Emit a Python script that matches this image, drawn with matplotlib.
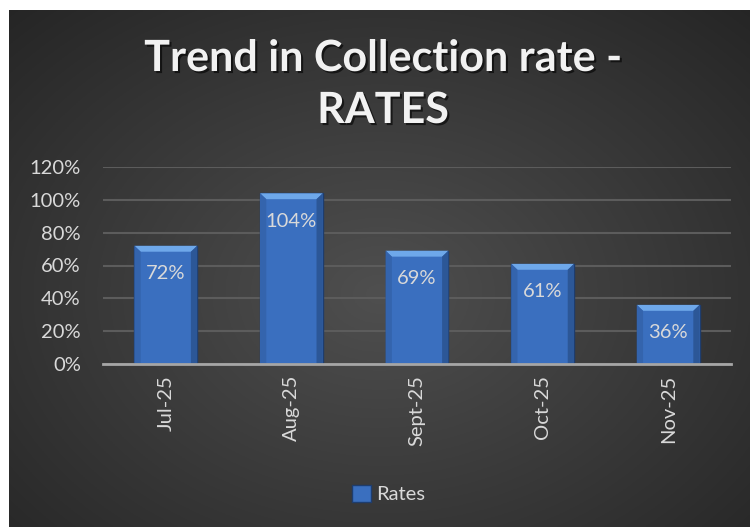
import numpy as np
import matplotlib.pyplot as plt
from matplotlib.patches import Polygon, Patch
from matplotlib.ticker import PercentFormatter
import matplotlib.patheffects as pe

plt.rcParams['font.family'] = ['Lato', 'DejaVu Sans']

months = ['Jul-25', 'Aug-25', 'Sept-25', 'Oct-25', 'Nov-25']
rates = [72, 104, 69, 61, 36]
yticks = [0, 20, 40, 60, 80, 100, 120]

bar_color = '#3a6fbf'
top_color = '#6ea8ea'
edge_dark = '#1e3d6e'
text_color = '#d9d9d9'

fig = plt.figure(figsize=(7.5, 5.27), dpi=100)
fig.patch.set_facecolor('white')

# dark radial gradient behind the chart
bg = fig.add_axes([9 / 750, 0, 741 / 750, 517 / 527])
yy, xx = np.mgrid[0:1:300j, 0:1:420j]
r = np.sqrt(((xx - 0.5) / 0.75) ** 2 + ((yy - 0.55) / 0.8) ** 2)
shade = np.clip(0.31 - 0.17 * r, 0.14, 0.31)
bg.imshow(np.dstack([shade] * 3), aspect='auto', extent=[0, 1, 0, 1])
bg.set_axis_off()

ax = fig.add_axes([103 / 750, 1 - 364 / 527, 628 / 750, 197 / 527])
ax.set_facecolor('none')
x = np.arange(len(months))
w = 0.5
bars = ax.bar(x, rates, width=w, color=bar_color, edgecolor=edge_dark,
              linewidth=1.0, zorder=3)

# bevel on each bar: light top strip and shaded sides
bh = 3.6
bw = 0.05
for xi, v in zip(x, rates):
    l, rgt = xi - w / 2, xi + w / 2
    ax.add_patch(Polygon([[l, v], [rgt, v], [rgt - bw, v - bh], [l + bw, v - bh]],
                         closed=True, facecolor=top_color, edgecolor='none', zorder=4))
    ax.add_patch(Polygon([[l, v], [l + bw, v - bh], [l + bw, 0], [l, 0]],
                         closed=True, facecolor='#3464ad', edgecolor='none', zorder=4))
    ax.add_patch(Polygon([[rgt, v], [rgt - bw, v - bh], [rgt - bw, 0], [rgt, 0]],
                         closed=True, facecolor='#2c5797', edgecolor='none', zorder=4))
    ax.annotate(f'{v}%', (xi, v), xytext=(0, -20), textcoords='offset points',
                ha='center', va='center', color=text_color, fontsize=14.5, zorder=5)

ax.set_xlim(-0.5, len(months) - 0.5)
ax.set_ylim(0, 120)
ax.set_yticks(yticks)
ax.yaxis.set_major_formatter(PercentFormatter(decimals=0))
ax.set_xticks(x)
ax.set_xticklabels(months, rotation=90, va='top')
ax.tick_params(axis='both', length=0, colors=text_color, labelsize=14.5)
ax.tick_params(axis='x', pad=8)
ax.tick_params(axis='y', pad=16)
ax.grid(axis='y', color='#5c5c5c', linewidth=1.5, zorder=0)
for s in ['top', 'right', 'left']:
    ax.spines[s].set_visible(False)
ax.spines['bottom'].set_color('#a6a6a6')
ax.spines['bottom'].set_linewidth(2)
ax.spines['bottom'].set_zorder(5)

title_fx = [pe.withSimplePatchShadow(offset=(1.5, -1.5), shadow_rgbFace='black', alpha=0.6)]
fig.text(383 / 750, 1 - 58 / 527, 'Trend in Collection rate -', ha='center', va='center',
         color='#f2f2f2', fontsize=31, fontweight='bold', path_effects=title_fx)
fig.text(383 / 750, 1 - 110 / 527, 'RATES', ha='center', va='center',
         color='#f2f2f2', fontsize=31, fontweight='bold', path_effects=title_fx)

handle = Patch(facecolor=bar_color, edgecolor=edge_dark, label='Rates')
leg = fig.legend(handles=[handle], loc='center', bbox_to_anchor=(389 / 750, 1 - 494 / 527),
                 frameon=False, fontsize=14.5, handlelength=0.9, handleheight=0.9,
                 handletextpad=0.3, labelcolor=text_color)

fig.savefig('out.png', dpi=100, facecolor=fig.get_facecolor())
